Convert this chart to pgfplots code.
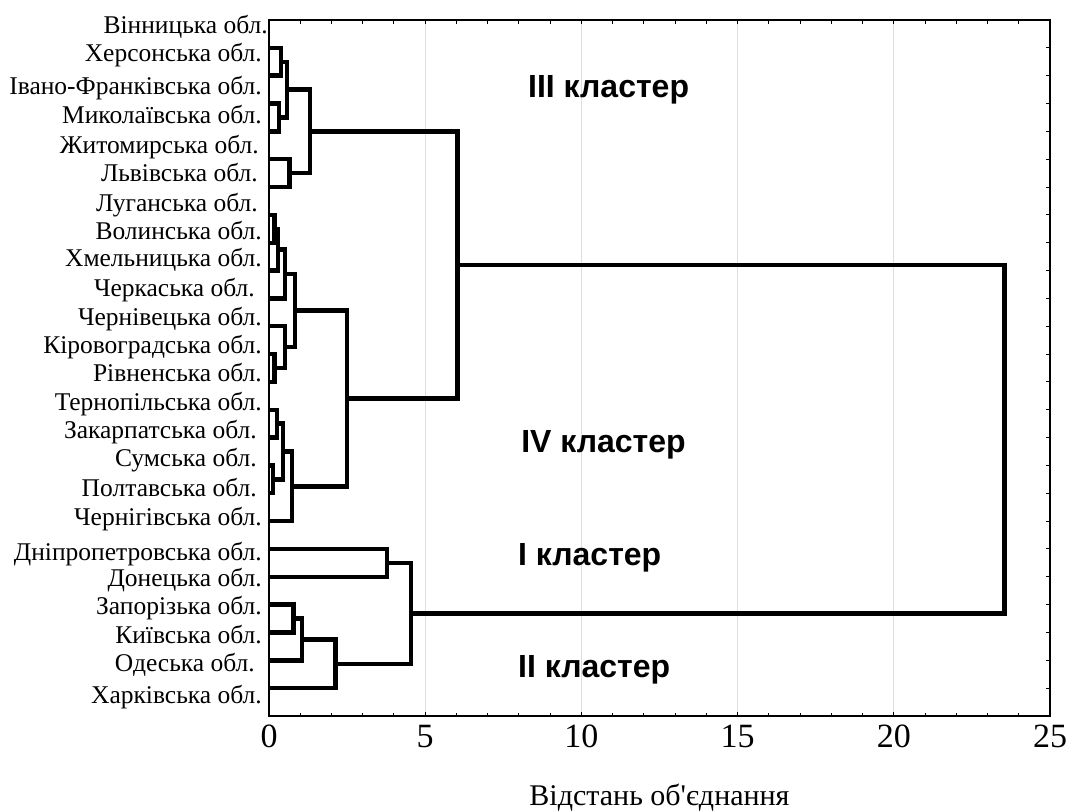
\documentclass[border=0pt]{standalone}
\usepackage{fontspec}
\setmainfont{Liberation Serif}
\newfontfamily\plainserif{Liberation Serif}[Ligatures=TeXOff]
\newfontfamily\lsans{Liberation Sans}
\usepackage{pgfplots}
\pgfplotsset{compat=1.18}
\pgfplotsset{dend/.style={black, solid, line width=4.4bp, line join=miter, mark=none}}
\begin{document}
\begin{tikzpicture}
\path[use as bounding box] (0,0) rectangle (1071bp,812bp);
\begin{axis}[
  at={(269bp,96bp)}, anchor=south west,
  scale only axis, width=781bp, height=696bp,
  xmin=0, xmax=25, ymin=0, ymax=25, y dir=reverse,
  axis line style={black, line width=1.5bp},
  tick align=inside,
  xtick={0,5,...,25}, minor x tick num=4,
  xmajorgrids, major grid style={draw=black!13, line width=1bp},
  major tick length=4bp, minor tick length=3.5bp,
  tick style={black, line width=1bp},
  ytick={1,...,24}, yticklabels={}, ytick pos=right, yticklabel pos=left,
  extra y ticks={0.48,1.50,2.67,3.71,4.79,5.81,6.89,7.88,8.86,9.94,10.96,11.97,12.99,14.04,15.03,16.04,17.10,18.14,19.40,20.36,21.37,22.39,23.41,24.54},
  extra y tick labels={
    {Вінницька обл.\hspace*{-6bp}},
    {Херсонська обл.},
    {Івано-Франківська обл.},
    {Миколаївська обл.},
    {Житомирська обл.\hspace*{3bp}},
    {Львівська обл.\hspace*{4bp}},
    {Луганська обл.\hspace*{4bp}},
    {Волинська обл.},
    {Хмельницька обл.},
    {Черкаська обл.\hspace*{7bp}},
    {Чернівецька обл.},
    {Кіровоградська обл.},
    {Рівненська обл.},
    {Тернопільська обл.},
    {Закарпатська обл.\hspace*{5bp}},
    {Сумська обл.\hspace*{5bp}},
    {Полтавська обл.\hspace*{5bp}},
    {Чернігівська обл.},
    {Дніпропетровська обл.},
    {Донецька обл.},
    {Запорізька обл.},
    {Київська обл.},
    {Одеська обл.\hspace*{7bp}},
    {Харківська обл.}},
  extra y tick style={major tick length=0pt},
  yticklabel style={anchor=base east, inner sep=0pt, xshift=-7bp, font=\fontsize{25.5bp}{30bp}\selectfont},
  xticklabel style={font=\fontsize{34bp}{40bp}\selectfont, text height=24bp, text depth=0pt},
  xticklabel shift=4bp,
  /pgf/number format/assume math mode=true,
  xlabel={Відстань об'єднання},
  xlabel style={at={(axis description cs:0.5,-0.128)}, anchor=base, font=\plainserif\fontsize{30bp}{36bp}\selectfont},
]
% III cluster
\addplot[dend] coordinates {(0,1) (0.38,1) (0.38,2) (0,2)};
\addplot[dend] coordinates {(0,3) (0.32,3) (0.32,4) (0,4)};
\addplot[dend] coordinates {(0.38,1.5) (0.57,1.5) (0.57,3.5) (0.32,3.5)};
\addplot[dend] coordinates {(0,5) (0.65,5) (0.65,6) (0,6)};
\addplot[dend] coordinates {(0.57,2.5) (1.31,2.5) (1.31,5.5) (0.65,5.5)};
% IV cluster
\addplot[dend] coordinates {(0,7) (0.17,7) (0.17,8) (0,8)};
\addplot[dend] coordinates {(0.17,7.5) (0.28,7.5) (0.28,9) (0,9)};
\addplot[dend] coordinates {(0.28,8.25) (0.51,8.25) (0.51,10) (0,10)};
\addplot[dend] coordinates {(0,12) (0.17,12) (0.17,13) (0,13)};
\addplot[dend] coordinates {(0,11) (0.51,11) (0.51,12.5) (0.17,12.5)};
\addplot[dend] coordinates {(0.51,9.125) (0.83,9.125) (0.83,11.75) (0.51,11.75)};
\addplot[dend] coordinates {(0,14) (0.26,14) (0.26,15) (0,15)};
\addplot[dend] coordinates {(0,16) (0.13,16) (0.13,17) (0,17)};
\addplot[dend] coordinates {(0.26,14.5) (0.45,14.5) (0.45,16.5) (0.13,16.5)};
\addplot[dend] coordinates {(0.45,15.5) (0.74,15.5) (0.74,18) (0,18)};
\addplot[dend] coordinates {(0.83,10.4375) (2.49,10.4375) (2.49,16.75) (0.74,16.75)};
\addplot[dend] coordinates {(1.31,4) (6.03,4) (6.03,13.59375) (2.49,13.59375)};
% I and II clusters
\addplot[dend] coordinates {(0,19) (3.77,19) (3.77,20) (0,20)};
\addplot[dend] coordinates {(0,21) (0.78,21) (0.78,22) (0,22)};
\addplot[dend] coordinates {(0.78,21.5) (1.05,21.5) (1.05,23) (0,23)};
\addplot[dend] coordinates {(1.05,22.25) (2.13,22.25) (2.13,24) (0,24)};
\addplot[dend] coordinates {(3.77,19.5) (4.55,19.5) (4.55,23.125) (2.13,23.125)};
% root
\addplot[dend] coordinates {(6.03,8.796875) (23.54,8.796875) (23.54,21.3125) (4.55,21.3125)};
\begin{scope}[every node/.style={anchor=base west, inner sep=0pt, font=\lsans\bfseries\fontsize{32bp}{38bp}\selectfont}]
\node at (axis cs:8.29,2.80) {III кластер};
\node at (axis cs:8.07,15.52) {IV кластер};
\node at (axis cs:7.97,19.61) {I кластер};
\node at (axis cs:7.97,23.63) {II кластер};
\end{scope}
\end{axis}
\end{tikzpicture}
\end{document}
